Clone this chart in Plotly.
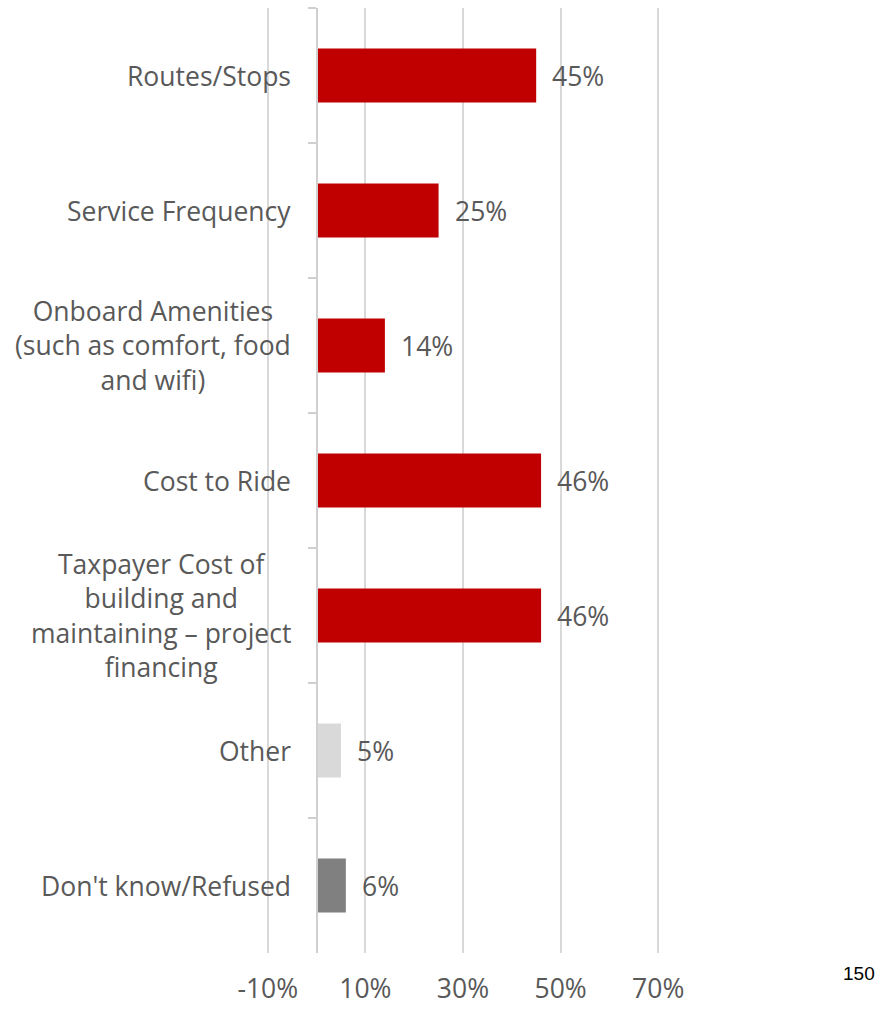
import plotly.graph_objects as go

# Survey results: share of respondents naming each factor
categories = [
    "Routes/Stops",
    "Service Frequency",
    "Onboard Amenities<br>(such as comfort, food<br>and wifi)",
    "Cost to Ride",
    "Taxpayer Cost of<br>building and<br>maintaining – project<br>financing",
    "Other",
    "Don't know/Refused",
]
values = [45, 25, 14, 46, 46, 5, 6]
bar_colors = ["#C00000", "#C00000", "#C00000", "#C00000", "#C00000", "#D9D9D9", "#808080"]
x_tick_values = [-10, 10, 30, 50, 70]
x_tick_labels = ["-10%", "10%", "30%", "50%", "70%"]
page_number = "150"

X_MIN, X_MAX = -12, 80
TEXT_COLOR = "#595959"
FONT = "Open Sans, Liberation Sans, Arial, sans-serif"
FONT_SIZE = 26.5

fig = go.Figure(
    go.Bar(
        x=values,
        y=categories,
        orientation="h",
        marker=dict(color=bar_colors, line=dict(width=0)),
        width=0.4,
        hoverinfo="skip",
    )
)

# Value labels to the right of each bar
for cat, v in zip(categories, values):
    fig.add_annotation(
        x=v, y=cat, xref="x", yref="y",
        text=f"{v}%", showarrow=False,
        xanchor="left", xshift=14,
        font=dict(family=FONT, size=FONT_SIZE, color=TEXT_COLOR),
    )

# Category labels, centred blocks right-aligned against the axis at 0
zero_frac = (0 - X_MIN) / (X_MAX - X_MIN)
for cat in categories:
    fig.add_annotation(
        x=zero_frac, y=cat, xref="paper", yref="y",
        text=cat, showarrow=False,
        xanchor="right", xshift=-24, align="center",
        font=dict(family=FONT, size=FONT_SIZE, color=TEXT_COLOR),
    )

fig.update_layout(
    width=885, height=1009,
    margin=dict(l=258, r=178, t=8, b=56),
    paper_bgcolor="white",
    plot_bgcolor="rgba(0,0,0,0)",
    showlegend=False,
    bargap=0.6,
    xaxis=dict(
        range=[X_MIN, X_MAX],
        tickvals=x_tick_values,
        ticktext=x_tick_labels,
        showgrid=True, gridcolor="#D9D9D9", gridwidth=1.5,
        zeroline=False, showline=False,
        ticks="", ticklabelstandoff=17, automargin=False,
        tickfont=dict(family=FONT, size=FONT_SIZE, color=TEXT_COLOR),
        fixedrange=True,
    ),
    yaxis=dict(
        type="category",
        categoryorder="array", categoryarray=categories,
        range=[len(categories) - 0.5, -0.5],
        anchor="free", position=zero_frac,
        showline=True, linecolor="#D0D0D0", linewidth=1.5,
        ticks="outside", tickson="boundaries", ticklen=8,
        tickcolor="#D0D0D0", tickwidth=1.5,
        showticklabels=False, showgrid=False, zeroline=False,
        automargin=False, fixedrange=True,
    ),
)

# Page number in the lower right corner
fig.add_annotation(
    x=1, y=0, xref="paper", yref="paper",
    text=page_number, showarrow=False,
    xanchor="center", yanchor="middle",
    xshift=152, yshift=-20,
    font=dict(family="Liberation Sans, Arial, sans-serif", size=19, color="black"),
)

fig.write_html("out.html")
